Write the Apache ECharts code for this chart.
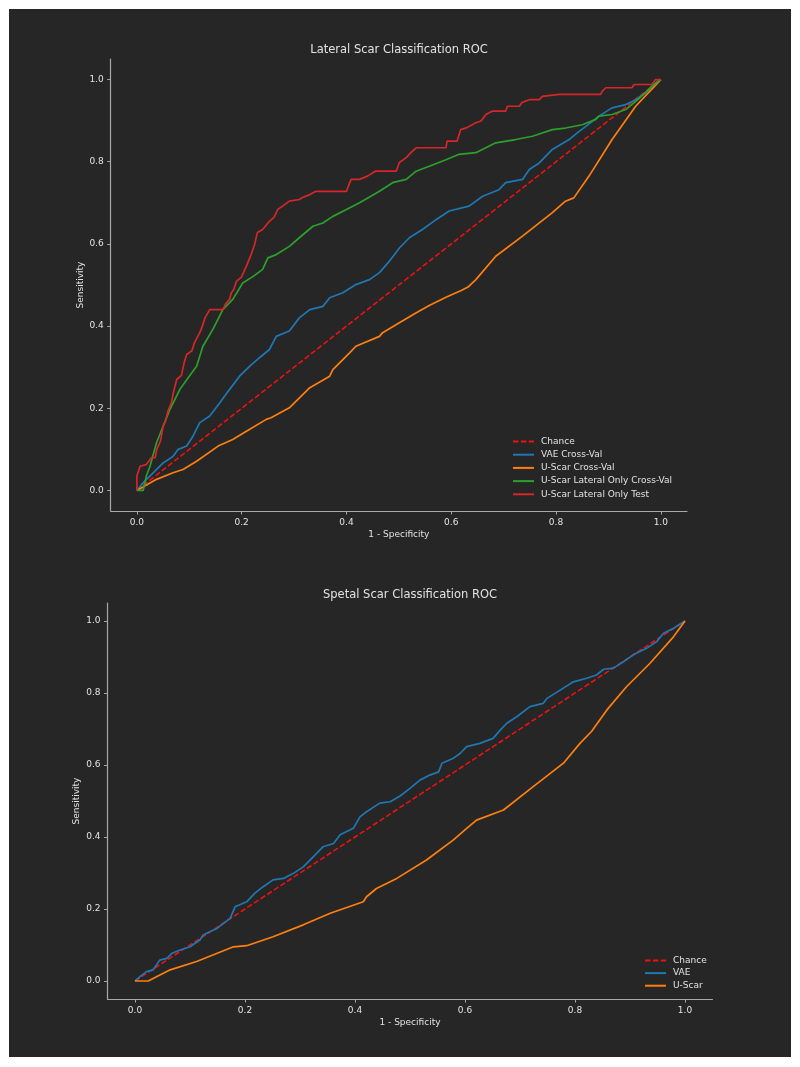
<!DOCTYPE html>
<html>
<head>
<meta charset="utf-8">
<script src="https://cdn.jsdelivr.net/npm/echarts@6/dist/echarts.min.js"></script>
<style>
  html, body { margin: 0; padding: 0; background: #ffffff; }
  #roc { position: absolute; left: 9px; top: 9px; width: 782px; height: 1048px; }
</style>
</head>
<body>
<div id="roc"></div>
<script>
// tick labels shared by both plots
var tickValues = [0, 0.2, 0.4, 0.6, 0.8, 1.0];

// ---- lateral plot: [1 - specificity, sensitivity]
var chanceLine = [[0, 0], [1, 1]];
var lateralVae = [[0,0],[0.012,0.019],[0.031,0.043],[0.05,0.067],[0.069,0.083],[0.079,0.1],[0.095,0.108],[0.107,0.132],[0.12,0.165],[0.139,0.181],[0.158,0.213],[0.177,0.246],[0.196,0.278],[0.215,0.302],[0.234,0.323],[0.253,0.343],[0.266,0.375],[0.291,0.388],[0.31,0.42],[0.33,0.44],[0.355,0.448],[0.368,0.469],[0.393,0.481],[0.418,0.501],[0.444,0.513],[0.463,0.53],[0.482,0.558],[0.501,0.59],[0.52,0.615],[0.545,0.635],[0.571,0.659],[0.596,0.68],[0.634,0.692],[0.66,0.716],[0.691,0.732],[0.704,0.749],[0.736,0.757],[0.749,0.781],[0.768,0.797],[0.793,0.83],[0.825,0.854],[0.844,0.874],[0.857,0.886],[0.882,0.911],[0.907,0.931],[0.933,0.939],[0.952,0.951],[0.971,0.968],[0.99,0.992],[1,1]];
var lateralUScar = [[0,0],[0.0375,0.027],[0.069,0.043],[0.088,0.051],[0.114,0.071],[0.155,0.108],[0.183,0.124],[0.209,0.144],[0.247,0.173],[0.256,0.177],[0.291,0.201],[0.33,0.25],[0.368,0.278],[0.374,0.294],[0.406,0.335],[0.418,0.351],[0.463,0.375],[0.469,0.384],[0.501,0.408],[0.53,0.43],[0.558,0.45],[0.59,0.47],[0.62,0.487],[0.632,0.495],[0.647,0.513],[0.685,0.57],[0.736,0.619],[0.793,0.676],[0.818,0.704],[0.834,0.712],[0.863,0.765],[0.907,0.854],[0.952,0.935],[1,1]];
var lateralOnlyCv = [[0,0],[0.012,0],[0.018,0.035],[0.025,0.059],[0.0375,0.116],[0.05,0.156],[0.063,0.197],[0.082,0.246],[0.1,0.278],[0.114,0.302],[0.126,0.351],[0.145,0.392],[0.164,0.44],[0.183,0.465],[0.202,0.505],[0.222,0.521],[0.24,0.538],[0.25,0.566],[0.266,0.574],[0.291,0.594],[0.31,0.615],[0.336,0.643],[0.355,0.651],[0.374,0.667],[0.4,0.684],[0.425,0.7],[0.445,0.715],[0.463,0.728],[0.488,0.749],[0.514,0.757],[0.533,0.777],[0.558,0.789],[0.59,0.805],[0.615,0.818],[0.647,0.822],[0.685,0.846],[0.723,0.854],[0.755,0.862],[0.793,0.878],[0.818,0.882],[0.85,0.89],[0.876,0.903],[0.882,0.911],[0.907,0.915],[0.933,0.927],[0.952,0.947],[0.971,0.968],[0.983,0.984],[1,1]];
var lateralOnlyTest = [[0,0],[0,0.035],[0.006,0.059],[0.018,0.063],[0.028,0.08],[0.035,0.08],[0.038,0.1],[0.045,0.12],[0.05,0.156],[0.055,0.17],[0.059,0.192],[0.066,0.214],[0.07,0.24],[0.076,0.27],[0.085,0.28],[0.09,0.31],[0.095,0.331],[0.105,0.34],[0.11,0.36],[0.12,0.384],[0.125,0.4],[0.13,0.42],[0.139,0.44],[0.164,0.44],[0.17,0.455],[0.177,0.465],[0.18,0.48],[0.185,0.49],[0.19,0.509],[0.2,0.52],[0.205,0.535],[0.209,0.546],[0.218,0.574],[0.225,0.6],[0.23,0.628],[0.24,0.635],[0.253,0.655],[0.262,0.665],[0.269,0.684],[0.278,0.692],[0.291,0.704],[0.31,0.708],[0.316,0.713],[0.33,0.72],[0.342,0.728],[0.4,0.728],[0.405,0.745],[0.409,0.757],[0.425,0.757],[0.44,0.765],[0.455,0.777],[0.495,0.777],[0.501,0.798],[0.514,0.81],[0.523,0.822],[0.533,0.834],[0.59,0.834],[0.592,0.85],[0.611,0.85],[0.618,0.878],[0.63,0.883],[0.647,0.895],[0.657,0.899],[0.666,0.915],[0.678,0.923],[0.704,0.923],[0.707,0.935],[0.73,0.935],[0.735,0.944],[0.749,0.951],[0.768,0.951],[0.774,0.959],[0.806,0.964],[0.885,0.964],[0.888,0.971],[0.895,0.98],[0.945,0.98],[0.949,0.988],[0.983,0.988],[0.99,1],[1,1]];

// ---- septal plot
var septalVae = [[0,0],[0.009,0.012],[0.021,0.026],[0.033,0.031],[0.045,0.058],[0.058,0.063],[0.067,0.077],[0.082,0.086],[0.1,0.095],[0.118,0.114],[0.124,0.128],[0.136,0.137],[0.149,0.146],[0.161,0.16],[0.173,0.174],[0.182,0.206],[0.203,0.22],[0.218,0.244],[0.233,0.262],[0.251,0.281],[0.27,0.285],[0.288,0.299],[0.306,0.317],[0.324,0.345],[0.342,0.373],[0.361,0.382],[0.373,0.406],[0.397,0.424],[0.409,0.456],[0.421,0.47],[0.445,0.494],[0.464,0.498],[0.482,0.514],[0.5,0.535],[0.518,0.558],[0.536,0.572],[0.552,0.581],[0.558,0.605],[0.579,0.619],[0.591,0.632],[0.603,0.651],[0.627,0.66],[0.651,0.674],[0.664,0.697],[0.676,0.716],[0.694,0.734],[0.718,0.762],[0.742,0.771],[0.749,0.785],[0.773,0.808],[0.797,0.831],[0.821,0.841],[0.839,0.85],[0.852,0.866],[0.87,0.869],[0.888,0.887],[0.906,0.906],[0.93,0.924],[0.948,0.942],[0.961,0.966],[0.979,0.98],[1,1]];
var septalUScar = [[0,0],[0.024,0],[0.064,0.031],[0.112,0.054],[0.179,0.095],[0.203,0.098],[0.251,0.123],[0.306,0.156],[0.355,0.188],[0.415,0.22],[0.421,0.234],[0.439,0.257],[0.476,0.285],[0.53,0.336],[0.579,0.392],[0.603,0.424],[0.621,0.447],[0.67,0.475],[0.724,0.54],[0.779,0.605],[0.809,0.66],[0.83,0.693],[0.858,0.753],[0.894,0.818],[0.936,0.882],[0.979,0.956],[1,1]];

var FONT = 'DejaVu Sans';
var AXIS_GREY = '#a8a8a8';
var TEXT_GREY = '#e2e2e2';

function makeAxis(gridIndex, name, gap) {
  return {
    type: 'value',
    gridIndex: gridIndex,
    min: -0.05,
    max: 1.05,
    name: name,
    nameLocation: 'middle',
    nameGap: gap,
    nameMoveOverlap: false,
    nameTextStyle: { color: TEXT_GREY, fontSize: 9, fontFamily: FONT },
    axisLine: { onZero: false, lineStyle: { color: AXIS_GREY, width: 1.2 } },
    axisTick: { customValues: tickValues, length: 3.5, lineStyle: { color: AXIS_GREY, width: 1 } },
    axisLabel: {
      customValues: tickValues,
      color: TEXT_GREY, fontSize: 9, fontFamily: FONT, margin: 7,
      formatter: function (v) { return v.toFixed(1); }
    },
    splitLine: { show: false }
  };
}

function line(name, data, color, idx, dashed) {
  return {
    name: name,
    type: 'line',
    xAxisIndex: idx,
    yAxisIndex: idx,
    data: data,
    symbol: 'none',
    showSymbol: false,
    animation: false,
    lineStyle: { color: color, width: dashed ? 1.6 : 1.7, type: dashed ? [5.5, 2.4] : 'solid' },
    itemStyle: { color: color }
  };
}

var legendText = { color: TEXT_GREY, fontSize: 9, fontFamily: FONT, padding: [0, 0, 0, 2] };

var chart = echarts.init(document.getElementById('roc'));
var option = {
  backgroundColor: '#262626',
  animation: false,
  title: [
    { text: 'Lateral Scar Classification ROC', left: 385, top: 30, textAlign: 'center',
      textStyle: { color: TEXT_GREY, fontSize: 11.5, fontWeight: 'normal', fontFamily: FONT } },
    { text: 'Spetal Scar Classification ROC', left: 396, top: 575, textAlign: 'center',
      textStyle: { color: TEXT_GREY, fontSize: 11.5, fontWeight: 'normal', fontFamily: FONT } }
  ],
  grid: [
    { left: 101.7, top: 50, width: 576.3, height: 452 },
    { left: 98.5, top: 594, width: 605, height: 396 }
  ],
  xAxis: [makeAxis(0, '1 - Specificity', 19), makeAxis(1, '1 - Specificity', 19)],
  yAxis: [makeAxis(0, 'Sensitivity', 26), makeAxis(1, 'Sensitivity', 26)],
  legend: [
    { orient: 'vertical', left: 503, top: 428, padding: 0, itemWidth: 21, itemHeight: 10, itemGap: 4.2,
      itemStyle: { opacity: 0 }, textStyle: legendText,
      data: ['Chance', 'VAE Cross-Val', 'U-Scar Cross-Val', 'U-Scar Lateral Only Cross-Val', 'U-Scar Lateral Only Test'] },
    { orient: 'vertical', left: 635, top: 947, padding: 0, itemWidth: 21, itemHeight: 10, itemGap: 3.6,
      itemStyle: { opacity: 0 }, textStyle: legendText,
      data: ['Chance', 'VAE', 'U-Scar'] }
  ],
  series: [
    line('Chance', chanceLine, '#ee1111', 0, true),
    line('VAE Cross-Val', lateralVae, '#1f77b4', 0),
    line('U-Scar Cross-Val', lateralUScar, '#ff7f0e', 0),
    line('U-Scar Lateral Only Cross-Val', lateralOnlyCv, '#2ca02c', 0),
    line('U-Scar Lateral Only Test', lateralOnlyTest, '#d62728', 0),
    line('Chance', chanceLine, '#ee1111', 1, true),
    line('VAE', septalVae, '#1f77b4', 1),
    line('U-Scar', septalUScar, '#ff7f0e', 1)
  ]
};
chart.setOption(option);
</script>
</body>
</html>
